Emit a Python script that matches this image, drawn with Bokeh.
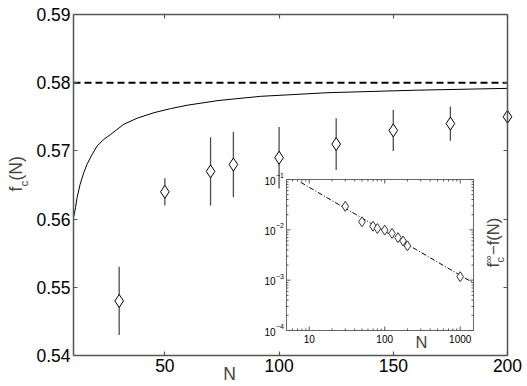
import math
import numpy as np
from bokeh.plotting import figure
from bokeh.models import Range1d, LogScale, LinearAxis, FixedTicker, Label
from bokeh.core.properties import value
from bokeh.embed import file_html
from bokeh.resources import INLINE

# ---------------- data ----------------
N = [30, 50, 70, 80, 100, 125, 150, 175, 200]
fc = [0.548, 0.564, 0.567, 0.568, 0.569, 0.571, 0.573, 0.574, 0.575]
fc_err = [0.005, 0.002, 0.005, 0.0048, 0.0045, 0.0038, 0.003, 0.0025, 0.0]

curve_N = [10, 10.9, 11.6, 12.9, 14.5, 16, 18.2, 20.3, 23.3, 26.2, 32, 37.9,
           45.2, 52.5, 59.8, 73.7, 91.9, 121, 160, 200]
curve_f = [0.5602, 0.5617, 0.5632, 0.5651, 0.5668, 0.5681, 0.5695, 0.5707,
           0.5717, 0.5724, 0.5739, 0.5748, 0.5756, 0.5762, 0.5767, 0.5774,
           0.5780, 0.57853, 0.5789, 0.57917]
f_inf = 0.58

inset_N = [30, 50, 70, 80, 100, 125, 150, 175, 200, 1000]
inset_diff = [0.0293, 0.0144, 0.0118, 0.0106, 0.0099, 0.0085, 0.0070,
              0.0060, 0.0048, 0.00117]
fit_N = [7.7, 1440]
fit_diff = [0.088, 0.00091]

x_ticks = [50, 100, 150, 200]
y_ticks = [0.54, 0.55, 0.56, 0.57, 0.58, 0.59]
inset_x_ticks = [10, 100, 1000]
inset_x_labels = ["10", "100", "1000"]
inset_y_ticks = [1e-1, 1e-2, 1e-3, 1e-4]
inset_y_exp = ["\u22121", "\u22122", "\u22123", "\u22124"]

X_LIM = (10, 200)
Y_LIM = (0.54, 0.59)
IX_LIM = (5, 1500)
IY_LIM = (1e-4, 1e-1)

# ---------------- layout (pixels) ----------------
W, H = 527, 386
FL, FR, FT, FB = 73, 507, 14, 355      # main data box
IL, IR, IT, IB = 286, 473, 179, 330    # inset box
FONT = "Liberation Sans"
AX = "#555555"


def mx(px):
    return X_LIM[0] + (px - FL) * (X_LIM[1] - X_LIM[0]) / (FR - FL)


def my(py):
    return Y_LIM[1] - (py - FT) * (Y_LIM[1] - Y_LIM[0]) / (FB - FT)


p = figure(width=W, height=H, output_backend="svg", toolbar_location=None,
           x_range=Range1d(mx(0), mx(W)), y_range=Range1d(my(H), my(0)),
           x_axis_location=None, y_axis_location=None, title=None,
           min_border=0)
p.outline_line_color = None
p.xgrid.grid_line_color = None
p.ygrid.grid_line_color = None
p.background_fill_color = "white"
p.border_fill_color = "white"


def make_axis(ticks, loc, bounds, show_labels=True):
    ax = LinearAxis(ticker=FixedTicker(ticks=ticks), fixed_location=loc,
                    bounds=bounds)
    ax.major_tick_in = 4
    ax.major_tick_out = 0
    ax.minor_tick_line_color = None
    ax.axis_line_color = AX
    ax.axis_line_width = 1.5
    ax.major_tick_line_color = AX
    ax.major_tick_line_width = 1.2
    if show_labels:
        ax.major_label_text_font = FONT
        ax.major_label_text_font_size = "17.5px"
        ax.major_label_text_color = "black"
        ax.major_label_standoff = 3
    else:
        ax.major_label_text_font_size = "1px"
        ax.major_label_text_alpha = 0
        ax.major_label_standoff = 0
    return ax


p.add_layout(make_axis(x_ticks, Y_LIM[0], X_LIM), "below")
p.add_layout(make_axis(y_ticks, X_LIM[0], Y_LIM), "left")
p.add_layout(make_axis(x_ticks, Y_LIM[1], X_LIM, False), "above")
p.add_layout(make_axis(y_ticks, X_LIM[1], Y_LIM, False), "right")

# ---------------- inset coordinate system ----------------
ppd_x = (IR - IL) / (math.log10(IX_LIM[1]) - math.log10(IX_LIM[0]))
ppd_y = (IB - IT) / (math.log10(IY_LIM[1]) - math.log10(IY_LIM[0]))
lx0 = math.log10(IX_LIM[0]) - IL / ppd_x
lx1 = math.log10(IX_LIM[1]) + (W - IR) / ppd_x
ly0 = math.log10(IY_LIM[0]) - (H - IB) / ppd_y
ly1 = math.log10(IY_LIM[1]) + IT / ppd_y
p.extra_x_ranges = {"ix": Range1d(10 ** lx0, 10 ** lx1)}
p.extra_y_ranges = {"iy": Range1d(10 ** ly0, 10 ** ly1)}
p.extra_x_scales = {"ix": LogScale()}
p.extra_y_scales = {"iy": LogScale()}

# ---------------- main plot ----------------
p.line([X_LIM[0], X_LIM[1]], [f_inf, f_inf], line_color="black",
       line_width=2, line_dash="7 4")
p.line(curve_N, curve_f, line_color="black", line_width=1)
lo = np.array(fc) - np.array(fc_err)
hi = np.array(fc) + np.array(fc_err)
p.segment(x0=N, y0=lo, x1=N, y1=hi, line_color="#4d4d4d", line_width=1.3)
p.scatter(N, fc, marker="diamond", size=13, fill_color="white",
          line_color="black", line_width=1)

half_pi = math.pi / 2
p.add_layout(Label(x=mx(229), y=my(373), text="N", text_align="center",
                   text_baseline="middle", text_font=FONT,
                   text_font_size="17.5px"))
p.add_layout(Label(x=mx(15.5), y=my(191), text="f", angle=half_pi,
                   text_align="left", text_baseline="alphabetic",
                   text_font=FONT, text_font_size="17.5px"))
p.add_layout(Label(x=mx(23), y=my(186), text="c", angle=half_pi,
                   text_align="left", text_baseline="alphabetic",
                   text_font=FONT, text_font_size="11.5px"))
p.add_layout(Label(x=mx(15.5), y=my(180), text="(N)", angle=half_pi,
                   text_align="left", text_baseline="alphabetic",
                   text_font=FONT, text_font_size="17.5px"))

# ---------------- inset ----------------
R = dict(x_range_name="ix", y_range_name="iy")
p.quad(left=[IX_LIM[0]], right=[IX_LIM[1]], bottom=[IY_LIM[0]],
       top=[IY_LIM[1]], fill_color="white", line_color="#666666",
       line_width=1, **R)


def tick_segments():
    x0s, y0s, x1s, y1s = [], [], [], []
    kx = lambda L: 10 ** (L / ppd_x)
    ky = lambda L: 10 ** (L / ppd_y)
    minor_x = [m * 10 ** k for k in range(0, 4) for m in range(2, 10)
               if IX_LIM[0] < m * 10 ** k < IX_LIM[1]]
    minor_y = [m * 10.0 ** k for k in range(-4, -1) for m in range(2, 10)
               if IY_LIM[0] < m * 10.0 ** k < IY_LIM[1]]
    for ticks, L in ((inset_x_ticks, 4), (minor_x, 2)):
        for t in ticks:
            x0s += [t, t]; x1s += [t, t]
            y0s += [IY_LIM[0], IY_LIM[1]]
            y1s += [IY_LIM[0] * ky(L), IY_LIM[1] / ky(L)]
    for ticks, L in ((inset_y_ticks, 4), (minor_y, 2)):
        for t in ticks:
            y0s += [t, t]; y1s += [t, t]
            x0s += [IX_LIM[0], IX_LIM[1]]
            x1s += [IX_LIM[0] * kx(L), IX_LIM[1] / kx(L)]
    return x0s, y0s, x1s, y1s


sx0, sy0, sx1, sy1 = tick_segments()
p.segment(x0=sx0, y0=sy0, x1=sx1, y1=sy1, line_color="#555555",
          line_width=1, **R)

p.line(fit_N, fit_diff, line_color="black", line_width=1,
       line_dash="5 2 1 2", **R)
p.scatter(inset_N, inset_diff, marker="diamond", size=10, fill_color="white",
          line_color="#333333", line_width=1, **R)

p.text(x=inset_x_ticks, y=[IY_LIM[0]] * len(inset_x_ticks),
       text=inset_x_labels, y_offset=4, text_align="center",
       text_baseline="top", text_font=value(FONT),
       text_font_size=value("10px"), text_color="black", **R)
p.text(x=[IX_LIM[0]] * len(inset_y_ticks), y=inset_y_ticks,
       text=["10"] * len(inset_y_ticks), x_offset=-11, y_offset=1,
       text_align="right", text_baseline="middle", text_font=value(FONT),
       text_font_size=value("10px"), text_color="black", **R)
p.text(x=[IX_LIM[0]] * len(inset_y_ticks), y=inset_y_ticks,
       text=inset_y_exp, x_offset=-10.5, y_offset=-4,
       text_align="left", text_baseline="middle", text_font=value(FONT),
       text_font_size=value("7px"), text_color="black", **R)

p.add_layout(Label(x=mx(421), y=my(341), text="N", text_align="center",
                   text_baseline="middle", text_font=FONT,
                   text_font_size="16.5px"))
p.add_layout(Label(x=mx(492), y=my(267), text="f", angle=half_pi,
                   text_align="left", text_baseline="alphabetic",
                   text_font=FONT, text_font_size="16.5px"))
p.add_layout(Label(x=mx(487), y=my(262.5), text="\u221e", angle=half_pi,
                   text_align="left", text_baseline="alphabetic",
                   text_font=FONT, text_font_size="11px"))
p.add_layout(Label(x=mx(499), y=my(262), text="c", angle=half_pi,
                   text_align="left", text_baseline="alphabetic",
                   text_font=FONT, text_font_size="11px"))
p.add_layout(Label(x=mx(492), y=my(254.5), text="\u2212f(N)", angle=half_pi,
                   text_align="left", text_baseline="alphabetic",
                   text_font=FONT, text_font_size="16.5px"))

open("out.html", "w").write(file_html(p, INLINE))
